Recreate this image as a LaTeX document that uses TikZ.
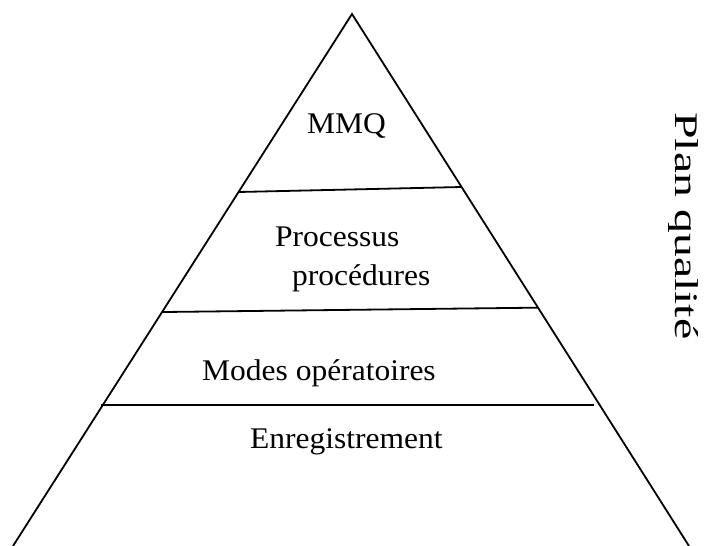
\documentclass[tikz,border=0pt]{standalone}
\usepackage{fontspec}
\setmainfont[FakeStretch=1.05]{Liberation Serif}
\newfontfamily\titlefont{Liberation Serif}
\usetikzlibrary{calc}
\begin{document}
\begin{tikzpicture}[x=1bp,y=-1bp,
  edge/.style={line width=1.8bp,black},
  level/.style={inner sep=0pt,anchor=base west,font=\fontsize{30bp}{35bp}\selectfont}]
\useasboundingbox (0,0) rectangle (711,546);
% pyramid outline
\coordinate (apex) at (352,14);
\coordinate (bl) at (13,546);
\coordinate (br) at (689,546);
\draw[edge] (bl) -- (apex) -- (br);
% level separators
\coordinate (s1l) at ($(apex)!0.3346!(bl)$);
\coordinate (s1r) at ($(apex)!0.3252!(br)$);
\coordinate (s2l) at ($(apex)!0.5602!(bl)$);
\coordinate (s2r) at ($(apex)!0.5520!(br)$);
\coordinate (s3l) at ($(apex)!0.7350!(bl)+(-2,0)$);
\coordinate (s3r) at ($(apex)!0.7350!(br)+(-6,0)$);
\draw[edge] (s1l) -- (s1r);
\draw[edge] (s2l) -- (s2r);
\draw[edge] (s3l) -- (s3r);
% level labels
\node[level] (mmq) at (307,134) {MMQ};
\node[level] (proc) at (275,247) {Processus};
\node[level] (procd) at (292,285) {procédures};
\node[level] (modes) at (202,380) {Modes opératoires};
\node[level] (enr) at (250,448) {Enregistrement};
% side title
\node[inner sep=0pt,anchor=base west,rotate=-90,font=\titlefont\fontsize{33bp}{38bp}\selectfont]
  (plan) at (675,112) {\scalebox{1.45}[1]{Plan qualité}};
\end{tikzpicture}
\end{document}
